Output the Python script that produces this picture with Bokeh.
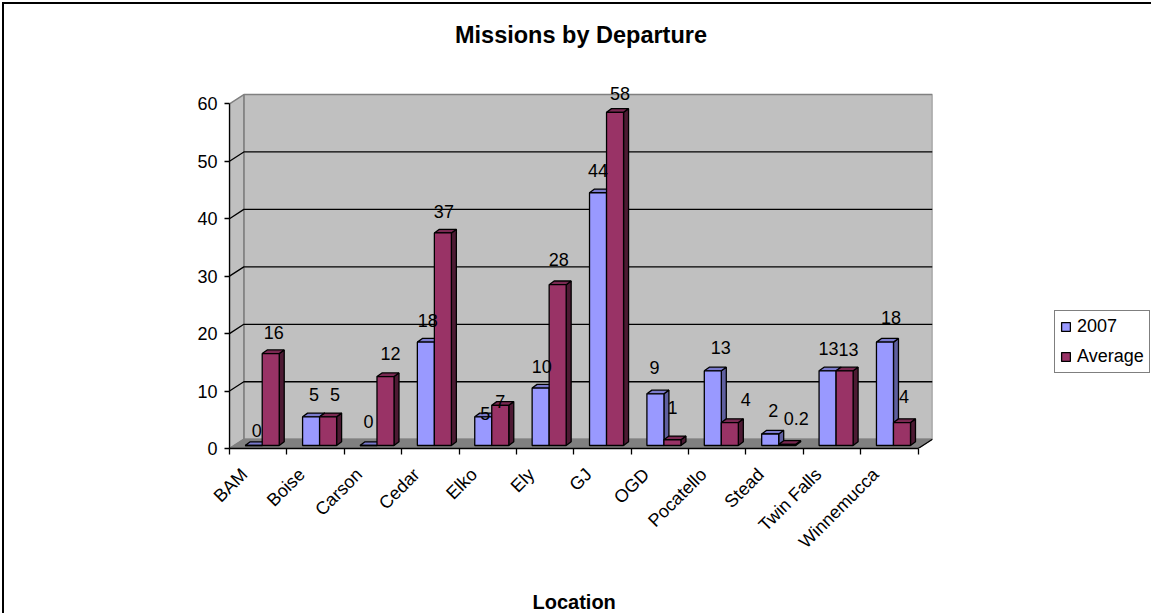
from bokeh.embed import file_html
from bokeh.resources import INLINE
from bokeh.plotting import figure
from bokeh.models import (Range1d, LinearAxis, FixedTicker, Legend, LegendItem, Title,
                          ColumnDataSource, InlineStyleSheet)
from bokeh.core.properties import value

categories = ["BAM", "Boise", "Carson", "Cedar", "Elko", "Ely", "GJ", "OGD",
              "Pocatello", "Stead", "Twin Falls", "Winnemucca"]
series_2007 = [0, 5, 0, 18, 5, 10, 44, 9, 13, 2, 13, 18]
series_average = [16, 5, 12, 37, 7, 28, 58, 1, 4, 0.2, 13, 4]
y_ticks = [0, 10, 20, 30, 40, 50, 60]

# Screen nudges of the value labels relative to the top centre of each bar
nudge_x_2007 = [3, 3, 0, 2, 2, 1, 0, -1, 8, 3, 1, 6]
nudge_y_2007 = [-15, -22, -24, -22, -3, -22, -22, -26, -23, -24, -22, -25]
nudge_x_avg = [3, 7, 5, 1, 0, 1, 5, 0, 16, 9, 4, 2]
nudge_y_avg = [-21, -22, -23, -21, -4, -25, -19, -32, -23, -26, -21, -26]

FONT = "Liberation Sans"
N = len(categories)
# 3D geometry in data units
WALL_DX, WALL_DY = 0.25, 1.62
BAR_W, BAR_DX, BAR_DY = 0.2965, 0.087, 0.64
BASE_DX, BASE_DY = 0.07, 0.52
TOP = y_ticks[-1]
HEADROOM = 4.18  # free room above the wall so the top value label is not clipped

border_css = InlineStyleSheet(css="""
:host::before { content: ""; position: absolute; left: 2px; top: 2px; right: 0; height: 2px;
                background: black; z-index: 100; pointer-events: none; }
:host::after { content: ""; position: absolute; left: 2px; top: 2px; bottom: 0; width: 2px;
               background: black; z-index: 100; pointer-events: none; }
""")

p = figure(width=1151, height=613, frame_width=703, frame_height=378,
           output_backend="svg", toolbar_location=None,
           x_range=Range1d(0, N + WALL_DX), y_range=Range1d(0, TOP + WALL_DY + HEADROOM),
           min_border_left=229, min_border_right=0, min_border_top=70,
           min_border_bottom=165, outline_line_color=None, x_axis_type=None,
           y_axis_type=None, background_fill_color="white", border_fill_color="white",
           stylesheets=[border_css])
p.background_fill_alpha = 0
p.xgrid.visible = False
p.ygrid.visible = False

# Walls and floor
WALL = "#808080"
p.patch([WALL_DX, N + WALL_DX, N + WALL_DX, WALL_DX],
        [WALL_DY, WALL_DY, TOP + WALL_DY, TOP + WALL_DY],
        fill_color="#C0C0C0", line_color=WALL, line_width=1.5)
p.patch([0, WALL_DX, WALL_DX, 0], [0, WALL_DY, TOP + WALL_DY, TOP],
        fill_color="#C0C0C0", line_color=WALL, line_width=1.5)
p.patch([0, N, N + WALL_DX, WALL_DX], [0, 0, WALL_DY, WALL_DY],
        fill_color=WALL, line_color=WALL, line_width=1)
for v in y_ticks[1:-1]:
    p.line([0, WALL_DX, N + WALL_DX], [v, v + WALL_DY, v + WALL_DY],
           line_color="black", line_width=1.3)
p.line([N, N + WALL_DX], [0, WALL_DY], line_color="black", line_width=1.3)


def draw_series(vals, shift, front, side, top, nx, ny):
    left = [i + 0.5 + BASE_DX + shift for i in range(N)]
    right = [l + BAR_W for l in left]
    bottom = [BASE_DY] * N
    tops = [BASE_DY + v for v in vals]
    p.patches([[r, r + BAR_DX, r + BAR_DX, r] for r in right],
              [[b, b + BAR_DY, t + BAR_DY, t] for b, t in zip(bottom, tops)],
              fill_color=side, line_color="black", line_width=1.3)
    p.patches([[l, r, r + BAR_DX, l + BAR_DX] for l, r in zip(left, right)],
              [[t, t, t + BAR_DY, t + BAR_DY] for t in tops],
              fill_color=top, line_color="black", line_width=1.3)
    r = p.quad(left=left, right=right, bottom=bottom, top=tops,
               fill_color=front, line_color="black", line_width=1.3)
    src = ColumnDataSource(dict(x=[l + BAR_W / 2 for l in left], y=tops,
                                t=[f"{v:g}" for v in vals], nx=nx, ny=ny))
    return r, src


r1, s1 = draw_series(series_2007, -BAR_W, "#9999FF", "#5F5F9F", "#7A7ACC",
                     nudge_x_2007, nudge_y_2007)
r2, s2 = draw_series(series_average, 0, "#993366", "#4D1A33", "#7A2952",
                     nudge_x_avg, nudge_y_avg)
for s in (s1, s2):
    p.text("x", "y", text="t", source=s, x_offset="nx", y_offset="ny",
           text_font=value(FONT), text_font_size="18px", text_color="black",
           text_align="center", text_baseline="middle")

# Axes
yax = LinearAxis(ticker=FixedTicker(ticks=y_ticks), bounds=(0, TOP),
                 major_tick_in=0, major_tick_out=5, minor_tick_out=0, minor_tick_in=0,
                 axis_line_color="black", axis_line_width=1.3, major_tick_line_width=1.3,
                 major_label_text_font=FONT, major_label_text_font_size="18px",
                 major_label_standoff=7, major_label_text_color="black")
p.add_layout(yax, "left")

label_pos = [i + 0.26 for i in range(N)]
xax = LinearAxis(ticker=FixedTicker(ticks=label_pos, minor_ticks=list(range(N + 1))),
                 bounds=(0, N),
                 major_label_overrides=dict(zip(label_pos, categories)),
                 major_tick_in=0, major_tick_out=0, minor_tick_in=0, minor_tick_out=6,
                 axis_line_color="black", axis_line_width=1.3,
                 minor_tick_line_color="black", minor_tick_line_width=1.3,
                 major_label_text_font=FONT,
                 major_label_text_font_size="18px", major_label_text_color="black",
                 major_label_orientation=0.785, major_label_standoff=17)
p.add_layout(xax, "below")

# X axis name, set under the axis and centred on the front edge of the floor
p.add_layout(Title(text="Location", align="left", offset=303, text_font=FONT,
                   text_font_size="20px", text_font_style="bold", text_color="black",
                   standoff=52), "below")

# Title
p.title.text = "Missions by Departure"
p.title.align = "center"
p.title.text_font = FONT
p.title.text_font_size = "23.5px"
p.title.text_font_style = "bold"
p.title.text_color = "black"
p.title.vertical_align = "top"
p.title.standoff = 42

# Legend
legend = Legend(items=[LegendItem(label="2007", renderers=[r1]),
                       LegendItem(label="Average", renderers=[r2])],
                location=(122, 75), orientation="vertical",
                label_text_font=FONT, label_text_font_size="18px", label_text_color="black",
                glyph_width=11, glyph_height=11, label_standoff=6, spacing=9,
                padding=5, margin=0, border_line_color="black", border_line_width=1.3,
                background_fill_color="white", background_fill_alpha=1)
p.add_layout(legend, "right")

open("out.html", "w").write(file_html(p, INLINE))
